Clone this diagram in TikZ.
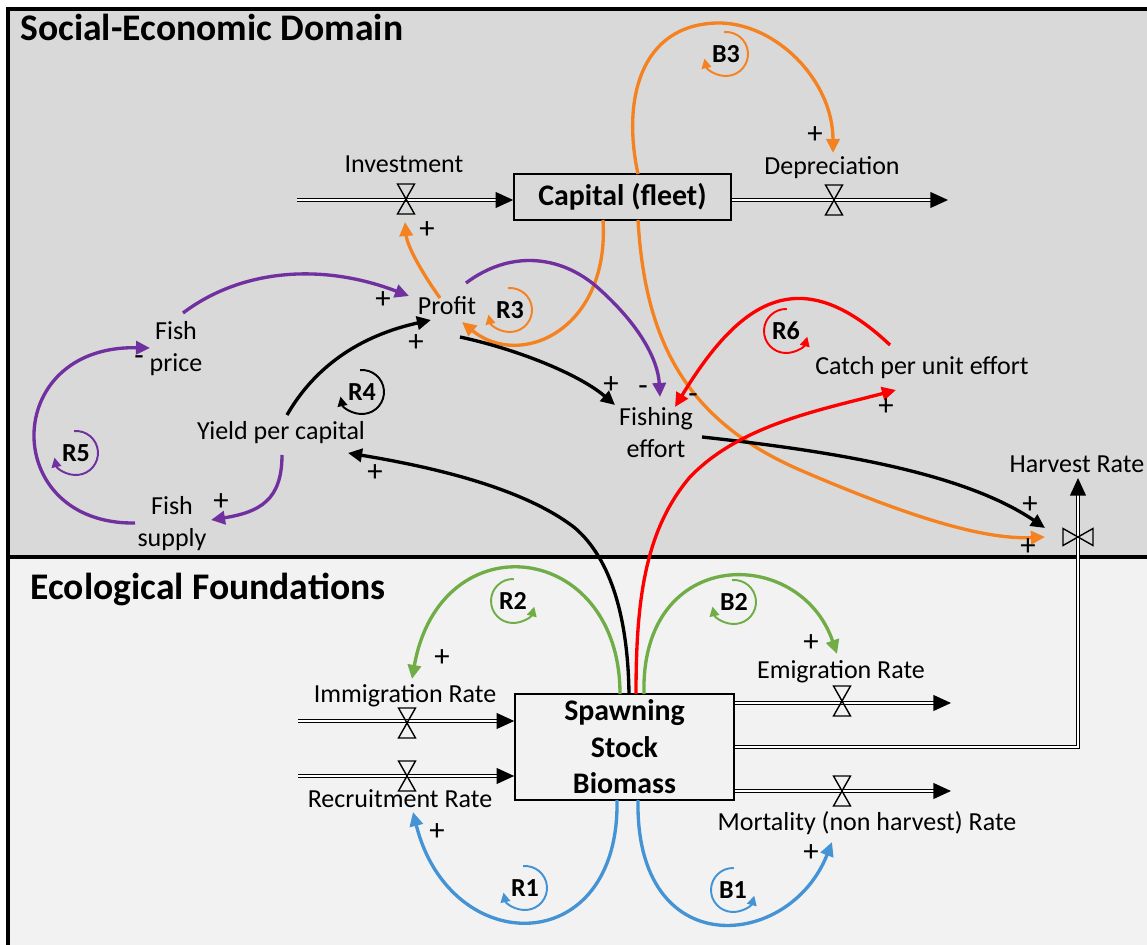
\documentclass[tikz,border=0pt]{standalone}
\usepackage{fontspec}
\setmainfont{Carlito}
\usetikzlibrary{arrows.meta}
\definecolor{cldOrange}{RGB}{245,130,32}
\definecolor{cldPurple}{RGB}{112,48,160}
\definecolor{cldRed}{RGB}{255,0,0}
\definecolor{cldGreen}{RGB}{112,173,71}
\definecolor{cldBlue}{RGB}{68,147,212}
\definecolor{socGray}{RGB}{217,217,217}
\definecolor{ecoGray}{RGB}{242,242,242}
\colorlet{soc-color}{socGray}
\colorlet{eco-color}{ecoGray}
\newcommand{\ver}[2]{\coordinate (#1) at (#2);}
\newcommand{\loopcw}[4]{\node[loopname] (#1) at (#2) {#3};
  \draw[loopline,#4] ([shift={(95:0.44cm)}]#1.center) arc[start angle=95,end angle=-168,radius=0.44cm];}
\newcommand{\loopccw}[4]{\node[loopname] (#1) at (#2) {#3};
  \draw[loopline,#4] ([shift={(88:0.44cm)}]#1.center) arc[start angle=88,end angle=345,radius=0.44cm];}
\tikzset{
  lnk/.style={line width=1.9pt,-{Triangle[length=8pt,width=7.5pt]}},
  pipe/.style={line width=0.7pt,double=white,double distance=1.4pt},
  pipearr/.style={pipe,-{Triangle[length=10pt,width=9pt]}},
  valve/.pic={\draw[line width=0.8pt] (-8.5,-15)--(8.5,-15)--(-8.5,15)--(8.5,15)--cycle;},
  lbl/.style={font=\fontsize{14.8}{18.2}\selectfont,inner sep=0pt,align=center},
  sgn/.style={font=\fontsize{17.5}{20}\selectfont,inner sep=0pt},
  stock/.style={draw,line width=0.9pt,inner sep=0pt,align=center,font=\fontsize{17}{20.8}\selectfont\bfseries},
  domtitle/.style={font=\fontsize{21.4}{26}\selectfont\bfseries,inner sep=0pt,anchor=base west},
  loopname/.style={font=\fontsize{14.8}{18.2}\selectfont\bfseries,inner sep=0pt},
  loopline/.style={line width=1.1pt,-{Triangle[length=5.5pt,width=5.5pt]}},
}

\begin{document}
\begin{tikzpicture}[x=0.02cm,y=-0.02cm]
  \useasboundingbox (0,0) rectangle (1147,945);
  \clip (0,0) rectangle (1147,945);
  % domains
  \fill[soc-color] (8,9) rectangle (1160,557);
  \fill[eco-color] (8,557) rectangle (1160,960);
  \draw[line width=2pt] (8,960) -- (8,9) -- (1160,9);
  \draw[line width=1.8pt] (8,557) -- (1160,557);
  \node[domtitle] (socT) at (20,41) {Social-Economic Domain};
  \node[domtitle] (ecoT) at (30,600) {Ecological Foundations};
  % stocks
  \node[stock,fill=soc-color,minimum width=4.34cm,minimum height=0.92cm] (cap) at (622.5,197) {Capital (fleet)};
  \node[stock,fill=eco-color,minimum width=4.38cm,minimum height=2.12cm] (bm) at (624.5,747) {Spawning\\Stock\\Biomass};
  % flows
  \ver{invS}{297,200} \ver{invV}{406,199} \ver{depV}{834,200} \ver{depE}{948,200}
  \ver{immS}{298,721} \ver{immV}{407,723} \ver{recS}{298,776} \ver{recV}{407,776}
  \ver{emiE}{951,703} \ver{emiV}{842,701} \ver{morE}{951,791} \ver{morV}{842,791}
  \ver{hvC}{1078,747} \ver{hvE}{1078,478} \ver{hvV}{1078,537}
  \draw[pipearr] (invS) -- (cap.west |- invS);
  \draw[pipearr] (cap.east |- depE) -- (depE);
  \draw[pipearr] (immS) -- (bm.west |- immS);
  \draw[pipearr] (recS) -- (bm.west |- recS);
  \draw[pipearr] (bm.east |- emiE) -- (emiE);
  \draw[pipearr] (bm.east |- morE) -- (morE);
  \draw[pipearr] (bm.east |- hvC) -- (hvC) -- (hvE);
  \pic at (invV) {valve};
  \pic at (depV) {valve};
  \pic at (immV) {valve};
  \pic at (recV) {valve};
  \pic at (emiV) {valve};
  \pic at (morV) {valve};
  \pic[rotate=90] at (hvV) {valve};
  % variables
  \node[lbl,anchor=base] (inv) at (404,173) {Investment};
  \node[lbl,anchor=base] (dep) at (832,175) {Depreciation};
  \node[lbl,anchor=base] (prf) at (447,315) {Profit};
  \node[lbl] (fp) at (176,349) {Fish\\price};
  \node[lbl,anchor=base] (ypc) at (281,440) {Yield per capital};
  \node[lbl] (fs) at (172,524) {Fish\\supply};
  \node[lbl] (fe) at (656,433) {Fishing\\effort};
  \node[lbl,anchor=base] (cpue) at (922,375) {Catch per unit effort};
  \node[lbl,anchor=base] (hr) at (1077,473) {Harvest Rate};
  \node[lbl,anchor=base] (imm) at (405,703) {Immigration Rate};
  \node[lbl,anchor=base] (rec) at (400,807) {Recruitment Rate};
  \node[lbl,anchor=base] (emi) at (841,679) {Emigration Rate};
  \node[lbl,anchor=base] (mor) at (867,830) {Mortality (non harvest) Rate};
  % link ends
  \ver{capT}{638,174} \ver{capB}{638,220} \ver{capR}{603,220}
  \ver{depA}{833,153} \ver{hvO}{1045,537} \ver{hvK}{1045,528}
  \ver{prfO}{462,322} \ver{prfI}{440,298} \ver{invA}{405,222}
  \ver{fpO}{183,313} \ver{prfP}{409,296} \ver{prfF}{466,283} \ver{feP}{660,397}
  \ver{ypcS}{282,455} \ver{fsA}{211,520} \ver{fsO}{135,523} \ver{fpA}{150,348}
  \ver{ypcP}{287,415} \ver{prfY}{431,320} \ver{bmK}{629,694} \ver{ypcA}{348,453}
  \ver{prfK}{460,337} \ver{feK}{615,405} \ver{feH}{702,437}
  \ver{cpueO}{890,345} \ver{feR}{675,407} \ver{bmR}{636,694} \ver{cpueA}{896,390}
  \ver{bmG1}{620,694} \ver{immA}{412,679} \ver{bmG2}{644,694} \ver{emiA}{837,654}
  \ver{bmB1}{617,800} \ver{recA}{413,812} \ver{bmB2}{638,800} \ver{morA}{832,842}
  % orange links
  \draw[lnk,cldOrange] (capT) .. controls (622,100) and (640,25) .. (717,23) .. controls (775,22) and (833,80) .. (depA);
  \draw[lnk,cldOrange] (capB) .. controls (645,340) and (685,420) .. (800,470) .. controls (900,513) and (980,540) .. (hvO);
  \draw[lnk,cldOrange] (capR) .. controls (610,330) and (520,370) .. (prfO);
  \draw[lnk,cldOrange] (prfI) .. controls (420,270) and (407,245) .. (invA);
  % purple links
  \draw[lnk,cldPurple] (fpO) .. controls (240,270) and (320,262) .. (prfP);
  \draw[lnk,cldPurple] (prfF) .. controls (510,250) and (560,255) .. (597,287) .. controls (640,325) and (658,360) .. (feP);
  \draw[lnk,cldPurple] (ypcS) .. controls (282,500) and (260,512) .. (fsA);
  \draw[lnk,cldPurple] (fsO) .. controls (0,525) and (0,345) .. (fpA);
  % black links
  \draw[lnk] (ypcP) .. controls (310,375) and (350,338) .. (prfY);
  \draw[lnk] (bmK) .. controls (628,620) and (612,560) .. (575,528) .. controls (520,485) and (420,465) .. (ypcA);
  \draw[lnk] (prfK) .. controls (520,350) and (580,375) .. (feK);
  \draw[lnk] (feH) .. controls (820,450) and (960,470) .. (hvK);
  % red links
  \draw[lnk,cldRed] (cpueO) .. controls (800,260) and (740,300) .. (feR);
  \draw[lnk,cldRed] (bmR) .. controls (636,600) and (645,530) .. (690,477) .. controls (740,425) and (820,410) .. (cpueA);
  % green and blue links
  \draw[lnk,cldGreen] (bmG1) .. controls (620,540) and (440,520) .. (immA);
  \draw[lnk,cldGreen] (bmG2) .. controls (640,545) and (800,545) .. (emiA);
  \draw[lnk,cldBlue] (bmB1) .. controls (620,960) and (450,960) .. (recA);
  \draw[lnk,cldBlue] (bmB2) .. controls (635,965) and (790,950) .. (morA);
  % polarities
  \node[sgn] (s1) at (427,230) {+};
  \node[sgn] (s2) at (815,135) {+};
  \node[sgn] (s3) at (383,300) {+};
  \node[sgn] (s4) at (416,343) {+};
  \node[sgn] (s5) at (139,361) {-};
  \node[sgn] (s6) at (375,473) {+};
  \node[sgn] (s7) at (221,502) {+};
  \node[sgn] (s8) at (611,385) {+};
  \node[sgn] (s9) at (643,391) {-};
  \node[sgn] (s10) at (693,399) {-};
  \node[sgn] (s11) at (886,407) {+};
  \node[sgn] (s12) at (1030,505) {+};
  \node[sgn] (s13) at (1028,547) {+};
  \node[sgn] (s14) at (442,658) {+};
  \node[sgn] (s15) at (437,832) {+};
  \node[sgn] (s16) at (811,643) {+};
  \node[sgn] (s17) at (811,853) {+};
  % loops
  \loopcw{lB3}{726,54}{B3}{cldOrange}
  \loopcw{lR3}{510,310}{R3}{cldOrange}
  \loopcw{lR4}{362,392}{R4}{black}
  \loopcw{lR5}{76,453}{R5}{cldPurple}
  \loopccw{lR6}{786,331}{R6}{cldRed}
  \loopccw{lR2}{513,601}{R2}{cldGreen}
  \loopcw{lB2}{734,602}{B2}{cldGreen}
  \loopcw{lR1}{525,888}{R1}{cldBlue}
  \loopccw{lB1}{733,890}{B1}{cldBlue}
\end{tikzpicture}
\end{document}
